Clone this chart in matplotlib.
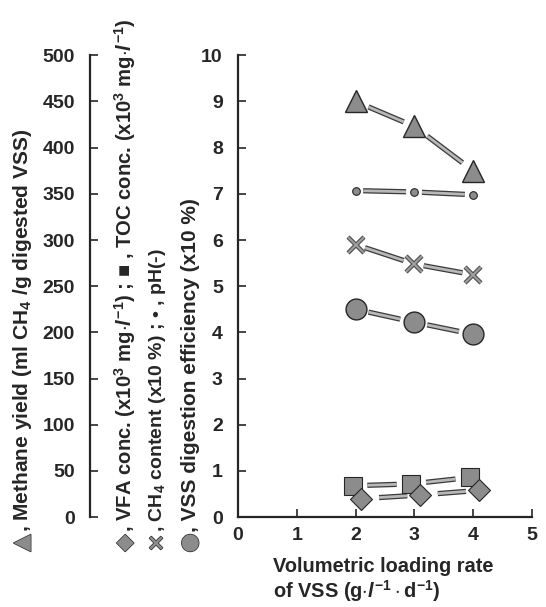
import matplotlib
matplotlib.use('Agg')
import matplotlib.pyplot as plt
import matplotlib.patheffects as pe

plt.rcParams['font.family'] = ['Liberation Sans', 'DejaVu Sans']
plt.rcParams['font.weight'] = 'bold'
plt.rcParams['mathtext.fontset'] = 'custom'
plt.rcParams['mathtext.rm'] = 'Liberation Sans:bold'
plt.rcParams['mathtext.it'] = 'Liberation Sans:bold:italic'
plt.rcParams['mathtext.bf'] = 'Liberation Sans:bold'

# data
loading = [2, 3, 4]
methane_yield = [450, 423, 375]      # ml CH4 / g digested VSS
ph = [7.07, 7.04, 6.98]
ch4_content = [5.9, 5.48, 5.25]      # x10 %
vss_eff = [4.5, 4.22, 3.96]          # x10 %
toc_conc = [0.68, 0.72, 0.86]        # x10^3 mg/l
vfa_conc = [0.4, 0.48, 0.58]         # x10^3 mg/l

ink = '#262626'
fill = '#8c8c8c'

fig = plt.figure(figsize=(5.46, 6.07), dpi=100)
ax = fig.add_axes([0.436, 0.148, 0.538, 0.761])
ax.set_xlim(0, 5)
ax.set_ylim(0, 10)
for s in ['top', 'right']:
    ax.spines[s].set_visible(False)
for s in ['left', 'bottom']:
    ax.spines[s].set_linewidth(1.6)
    ax.spines[s].set_color(ink)
ax.set_xticks(range(0, 6))
ax.set_yticks(range(0, 11))
ax.tick_params(axis='both', direction='in', length=6, width=1.2, color=ink,
               labelsize=14, labelcolor=ink)
ax.tick_params(axis='y', pad=11)
ax.tick_params(axis='x', pad=7)

ax2 = ax.twinx()
ax2.set_ylim(0, 500)
ax2.set_yticks(range(0, 501, 50))
for s in ['top', 'right', 'bottom']:
    ax2.spines[s].set_visible(False)
ax2.spines['left'].set_visible(True)
ax2.spines['left'].set_position(('axes', -0.503))
ax2.spines['left'].set_linewidth(1.6)
ax2.spines['left'].set_color(ink)
ax2.yaxis.set_ticks_position('left')
ax2.yaxis.set_label_position('left')
ax2.tick_params(axis='y', direction='in', length=6, width=1.2, color=ink,
                labelsize=14, labelcolor=ink, pad=11)

line_fx = [pe.Stroke(linewidth=3.8, foreground='#3a3a3a'), pe.Normal()]


def connect(axis, xs, ys, a, b):
    for i in range(len(xs) - 1):
        x0, x1 = xs[i], xs[i + 1]
        y0, y1 = ys[i], ys[i + 1]
        axis.plot([x0 + a * (x1 - x0), x0 + b * (x1 - x0)],
                  [y0 + a * (y1 - y0), y0 + b * (y1 - y0)],
                  color='#b8b8b8', lw=2, solid_capstyle='butt',
                  path_effects=line_fx, zorder=2)


# methane yield (outer axis)
connect(ax2, loading, methane_yield, 0.22, 0.82)
ax2.plot(loading, methane_yield, ls='none', marker='^', ms=16, mfc=fill,
         mec=ink, mew=1, clip_on=False, zorder=3)

# pH
connect(ax, loading, ph, 0.13, 0.86)
ax.plot(loading, ph, ls='none', marker='o', ms=5.5, mfc=fill, mec=ink,
        mew=0.8, zorder=3)

# CH4 content
connect(ax, loading, ch4_content, 0.16, 0.82)
ax.plot(loading, ch4_content, ls='none', marker='x', ms=12, mec='#555555',
        mew=3.2, zorder=3)
ax.plot(loading, ch4_content, ls='none', marker='x', ms=11, mec='#a0a0a0',
        mew=1.4, zorder=4)

# VSS digestion efficiency
connect(ax, loading, vss_eff, 0.22, 0.76)
ax.plot(loading, vss_eff, ls='none', marker='o', ms=15, mfc=fill, mec=ink,
        mew=1, zorder=3)

# TOC conc.
toc_x = [x - 0.05 for x in loading]
connect(ax, toc_x, toc_conc, 0.25, 0.75)
ax.plot(toc_x, toc_conc, ls='none', marker='s', ms=13, mfc=fill, mec=ink,
        mew=0.8, clip_on=False, zorder=3)

# VFA conc.
vfa_x = [x + 0.1 for x in loading]
connect(ax, vfa_x, vfa_conc, 0.3, 0.78)
ax.plot(vfa_x, vfa_conc, ls='none', marker='D', ms=11, mfc=fill, mec=ink,
        mew=0.8, clip_on=False, zorder=3)

# axis titles
fig.text(273 / 546, 1 - 566 / 607, 'Volumetric loading rate',
         fontsize=14.4, color=ink, ha='left', va='center')
fig.text(273 / 546, 1 - 591 / 607, r'of VSS (g$\cdot\mathit{l}^{-1}\cdot$d$^{-1}$)',
         fontsize=14.4, color=ink, ha='left', va='center')

sym_fx = [pe.Stroke(linewidth=1, foreground=ink), pe.Normal()]
left_labels = [
    (22, '\u25B2', ', Methane yield (ml CH$_4$ /g digested VSS)', 15),
    (125, '\u25C6', ', VFA conc. (x10$^3$ mg$\\cdot\\mathit{l}^{-1}$) ; \u25A0 , TOC conc. (x10$^3$ mg$\\cdot\\mathit{l}^{-1}$)', 14.6),
    (157, '\u00D7', ', CH$_4$ content (x10 %) ; \u2022 , pH(-)', 14),
    (190, '\u25CF', ', VSS digestion efficiency (x10 %)', 15),
]
for xpix, sym, txt, fs in left_labels:
    fig.text(xpix / 546, 1 - 543 / 607, sym, rotation=90, ha='center',
             va='center', fontsize=16, color=fill, family='DejaVu Sans',
             path_effects=sym_fx)
    fig.text(xpix / 546, 1 - 532 / 607, txt, rotation=90, rotation_mode='anchor',
             ha='left', va='center', fontsize=fs, color=ink)

fig.savefig('out.png', dpi=100)
